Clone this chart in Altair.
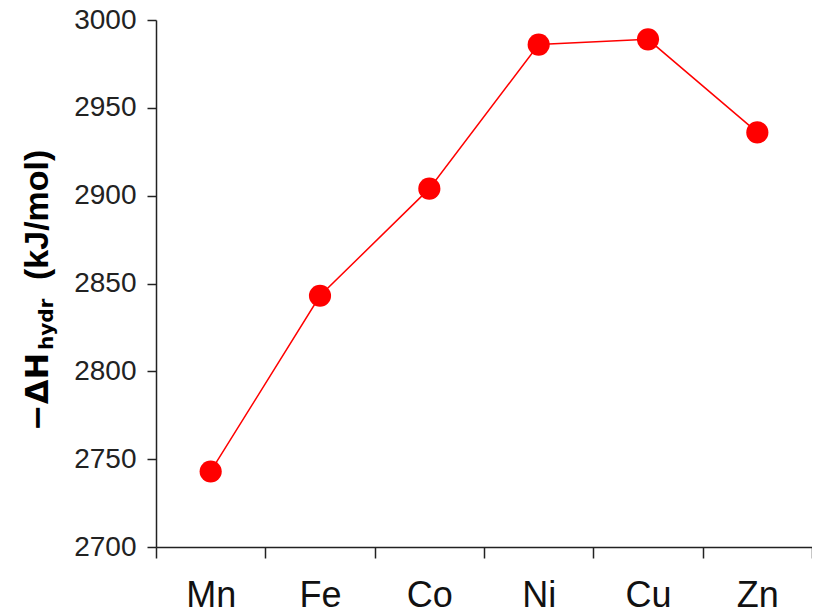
import altair as alt
import pandas as pd

metals = ["Mn", "Fe", "Co", "Ni", "Cu", "Zn"]
neg_dh_hydr = [2743, 2843, 2904, 2986, 2989, 2936]
y_ticks = [2700, 2750, 2800, 2850, 2900, 2950, 3000]
title_main = "\u2212\u0394H"
title_sub = "hydr"
title_unit = "(kJ/mol)"

df = pd.DataFrame({"metal": metals, "dh": neg_dh_hydr})

FONT = "Liberation Sans"
TFONT = "DejaVu Sans"
RED = "#ff0000"

x_enc = alt.X(
    "metal:N",
    sort=metals,
    scale=alt.Scale(paddingInner=0, paddingOuter=0),
    axis=alt.Axis(
        title=None,
        labelAngle=0,
        labelFont=FONT,
        labelFontSize=36,
        labelColor="#111111",
        labelPadding=20,
        tickBand="extent",
        tickSize=11,
        tickWidth=1.5,
        tickColor="#222222",
        domainColor="#222222",
        domainWidth=1.5,
        grid=False,
    ),
)
y_enc = alt.Y(
    "dh:Q",
    scale=alt.Scale(domain=[2700, 3000], nice=False, zero=False),
    axis=alt.Axis(
        title=None,
        values=y_ticks,
        format="d",
        labelFont=FONT,
        labelFontSize=28,
        labelColor="#222222",
        labelPadding=11,
        tickSize=9,
        tickWidth=1.5,
        tickColor="#222222",
        domainColor="#222222",
        domainWidth=1.5,
        grid=False,
    ),
)

base = alt.Chart(df)
line = base.mark_line(color=RED, strokeWidth=1.5).encode(x=x_enc, y=y_enc)
pts = base.mark_circle(color=RED, opacity=1, size=490).encode(x=x_enc, y=y_enc)

t1 = alt.Chart(pd.DataFrame({"t": [title_main]})).mark_text(
    font=TFONT, fontSize=32, fontWeight="bold", angle=270, align="left",
    baseline="alphabetic", color="#000000"
).encode(text="t:N", x=alt.value(-108), y=alt.value(411))
t2 = alt.Chart(pd.DataFrame({"t": [title_sub]})).mark_text(
    font=TFONT, fontSize=20, fontWeight="bold", angle=270, align="left",
    baseline="alphabetic", color="#000000"
).encode(text="t:N", x=alt.value(-103), y=alt.value(330))
t3 = alt.Chart(pd.DataFrame({"t": [title_unit]})).mark_text(
    font=FONT, fontSize=34, fontWeight="bold", angle=270, align="left",
    baseline="alphabetic", color="#000000"
).encode(text="t:N", x=alt.value(-108), y=alt.value(260))

chart = alt.layer(line, pts, t1, t2, t3).properties(
    width=656,
    height=527,
    autosize=alt.AutoSizeParams(type="none"),
    padding={"left": 148, "top": 12, "right": 0, "bottom": 66},
).configure_view(stroke=None)

chart.save("out.html", embed_options={"renderer": "svg", "actions": False})
